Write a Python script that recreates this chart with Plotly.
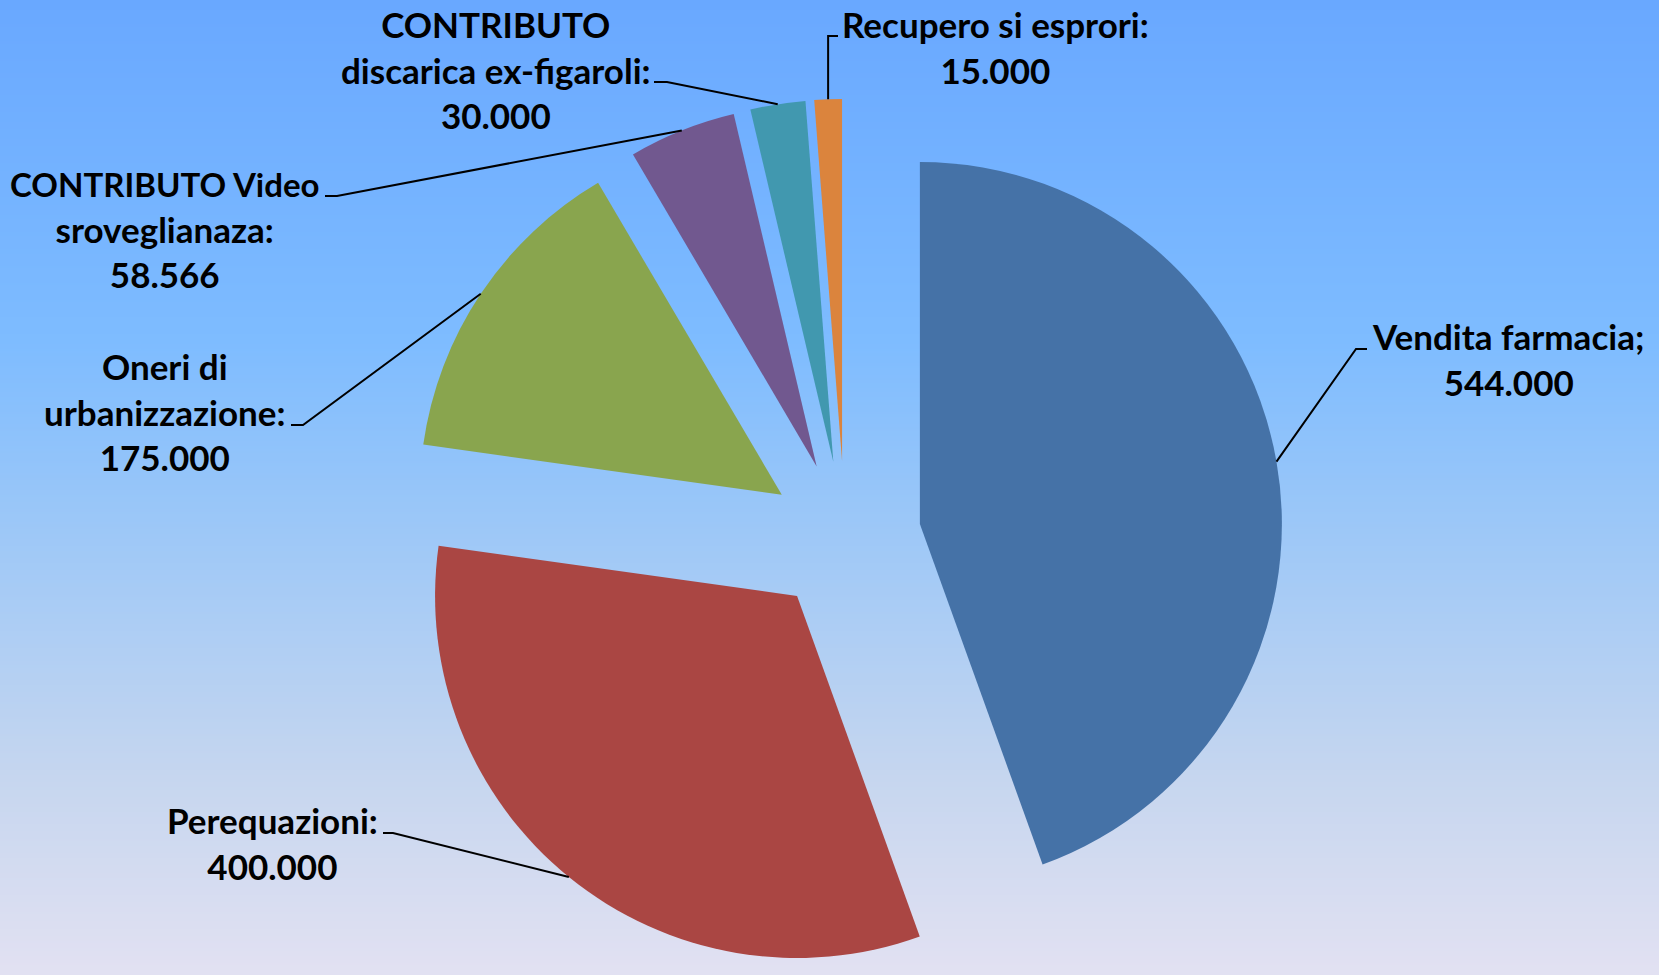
import math
import numpy as np
import plotly.graph_objects as go

# ---------------- data ----------------
categories = [
    "Vendita farmacia",
    "Perequazioni",
    "Oneri di urbanizzazione",
    "CONTRIBUTO Video sroveglianaza",
    "CONTRIBUTO discarica ex-figaroli",
    "Recupero si esprori",
]
values = [544000, 400000, 175000, 58566, 30000, 15000]
# label text as displayed (line breaks + separator as in the original)
label_heads = [
    "Vendita farmacia;",
    "Perequazioni:",
    "Oneri di<br>urbanizzazione:",
    "<span style='font-size:33px'>CONTRIBUTO Video</span><br>sroveglianaza:",
    "CONTRIBUTO<br>discarica ex-figaroli:",
    "Recupero si esprori:",
]
colors = ["#4572A7", "#AA4643", "#89A54E", "#71588F", "#4198AF", "#DB843D"]

# ---------------- layout constants ----------------
W, H = 1659, 975
PULL = 0.21
R = 362.0          # pie radius in px
CX = 845.0         # pie centre x in px
HALF = R * (1 + PULL)
CY = H - HALF      # pie centre y (px from top) -> domain touches the bottom

dom_x = [(CX - HALF) / W, (CX + HALF) / W]
dom_y = [0.0, 2 * HALF / H]

# label block centres (px) and leader-line label-side points (px)
label_pos = [(1508, 359), (272, 843), (165, 412), (165, 229), (496, 69), (996, 47)]
leader_end = [
    [(1356, 349), (1367, 349)],
    [(393, 833), (383, 833)],
    [(303, 425), (291, 425)],
    [(337, 196), (325, 196)],
    [(667, 82), (654, 82)],
    [(None, 36), (838, 36)],
]

def fmt(v):
    return f"{v:,}".replace(",", ".")

def px2paper(x, y):
    return x / W, 1 - y / H

fig = go.Figure()

# ---------------- gradient background ----------------
grad_rows = np.linspace(0, 1, 400)
fig.add_trace(go.Heatmap(
    z=[[t, t] for t in grad_rows], x=[0, 1], y=list(range(len(grad_rows))),
    colorscale=[[0.0, "rgb(105,168,255)"], [0.35, "rgb(126,188,255)"],
                [0.55, "rgb(158,200,247)"], [0.8, "rgb(198,214,239)"],
                [1.0, "rgb(226,225,242)"]],
    showscale=False, hoverinfo="skip",
))

# ---------------- pie ----------------
fig.add_trace(go.Pie(
    labels=categories, values=values, sort=False, direction="clockwise",
    rotation=0, pull=PULL, textinfo="none", hoverinfo="label+value",
    marker=dict(colors=colors, line=dict(width=0)),
    domain=dict(x=dom_x, y=dom_y), showlegend=False,
))

# ---------------- labels + leader lines ----------------
total = float(sum(values))
cum = 0.0
shapes = []
annotations = []
for i, v in enumerate(values):
    ang = (cum + v / 2) / total * 2 * math.pi
    cum += v
    ax = CX + HALF * math.sin(ang)
    ay = CY - HALF * math.cos(ang)
    (ex, ey), (fx, fy) = leader_end[i]
    if ex is None:
        ex = ax
    p0 = px2paper(ax, ay)
    p1 = px2paper(ex, ey)
    p2 = px2paper(fx, fy)
    shapes.append(dict(
        type="path", xref="paper", yref="paper",
        path=f"M {p0[0]} {p0[1]} L {p1[0]} {p1[1]} L {p2[0]} {p2[1]}",
        line=dict(color="black", width=2),
    ))
    lx, ly = px2paper(*label_pos[i])
    annotations.append(dict(
        xref="paper", yref="paper", x=lx, y=ly, xanchor="center", yanchor="middle",
        text=f"<b>{label_heads[i]}<br>{fmt(v)}</b>", showarrow=False, align="center",
        font=dict(family="Lato", size=35, color="black"), borderpad=0,
    ))

fig.update_layout(
    width=W, height=H, margin=dict(l=0, r=0, t=0, b=0),
    paper_bgcolor="white", plot_bgcolor="white",
    xaxis=dict(visible=False, domain=[0, 1], range=[-0.5, 1.5], fixedrange=True),
    yaxis=dict(visible=False, domain=[0, 1], range=[len(grad_rows) - 0.5, -0.5], fixedrange=True),
    shapes=shapes, annotations=annotations,
)

fig.write_html("out.html", config={"displayModeBar": False},
               post_script="document.body.style.margin='0px';")
